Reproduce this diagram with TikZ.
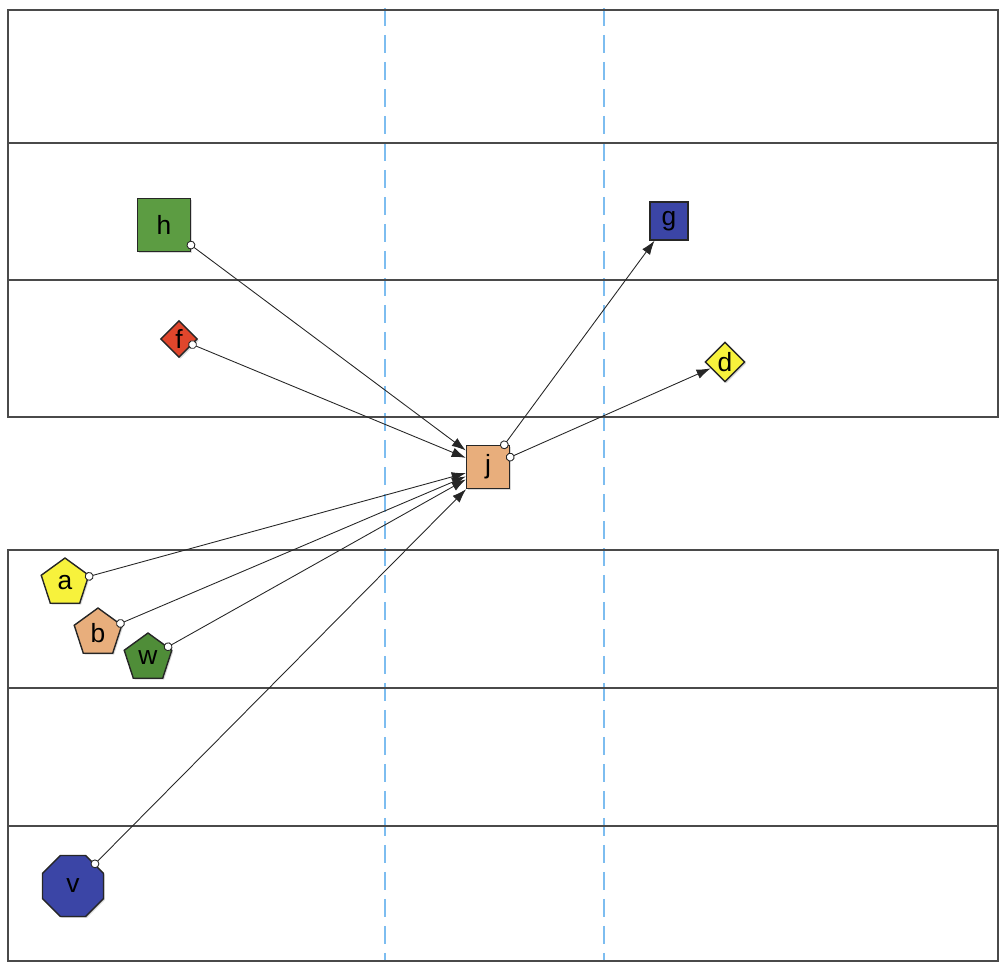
\documentclass[tikz,border=0pt]{standalone}
\usepackage{fontspec}
\setmainfont{Liberation Sans}
\usepackage{xcolor}
\usetikzlibrary{arrows.meta,shapes.geometric,shadows}
\definecolor{leaf}{HTML}{5C9C42}
\definecolor{moss}{HTML}{4F8D38}
\definecolor{tomato}{HTML}{E0462C}
\definecolor{indigo}{HTML}{3B45A6}
\definecolor{lemon}{HTML}{F7F23C}
\definecolor{sand}{HTML}{E8AE7C}
\definecolor{lanecol}{HTML}{7DBDF0}
\definecolor{bandcol}{HTML}{4A4A4A}
\tikzset{band/.style={draw=bandcol,line width=0.8pt},
  lane/.style={draw=lanecol,line width=0.7pt,dash pattern=on 0.36cm off 0.18cm},
  obj/.style={draw=black!85,line width=0.8pt,inner sep=0pt,font=\fontsize{15}{17}\selectfont,
    drop shadow={shadow xshift=0.8pt,shadow yshift=-0.8pt,opacity=0.3}},
  sq/.style={obj,rectangle,minimum size=#1},
  dia/.style={obj,diamond,minimum size=#1},
  penta/.style={obj,regular polygon,regular polygon sides=5,minimum size=1cm},
  octa/.style={obj,regular polygon,regular polygon sides=8,minimum size=1.32cm},
  link/.style={draw=black!85,line width=0.5pt,{Circle[fill=white,length=5pt,width=5pt]}-{Latex[length=8pt,width=5.5pt]},shorten <=-2.5pt}}

\begin{document}
\begin{tikzpicture}[x=0.02cm,y=-0.02cm]
\useasboundingbox (0,0) rectangle (1000,963);
% swim lanes
\draw[lane] (385,8) -- (385,961); \draw[lane] (604,8) -- (604,961);
\draw[band] (8,10) rectangle (998,417); \draw[band] (8,143) -- (998,143); \draw[band] (8,280) -- (998,280);
\draw[band] (8,550) rectangle (998,961); \draw[band] (8,688) -- (998,688); \draw[band] (8,826) -- (998,826);
% objects
\node[sq=1.05cm,fill=leaf] (h) at (164,225) {h};
\node[dia=0.74cm,fill=tomato] (f) at (179,339) {f};
\node[sq=0.76cm,fill=indigo] (g) at (669,221) {g};
\node[dia=0.8cm,fill=lemon] (d) at (725,362) {d};
\node[sq=0.86cm,fill=sand] (j) at (488,467) {j};
\node[penta,fill=lemon] (a) at (65,583) {a};
\node[penta,fill=sand] (b) at (98,633) {b};
\node[penta,fill=moss] (w) at (148,658) {w};
\node[octa,fill=indigo] (v) at (73,886) {v};
% links
\foreach \src/\dst in {h/j,f/j,a/j,b/j,w/j,v/j,j/g,j/d}
  \draw[link] (\src) -- (\dst);
\end{tikzpicture}
\end{document}
